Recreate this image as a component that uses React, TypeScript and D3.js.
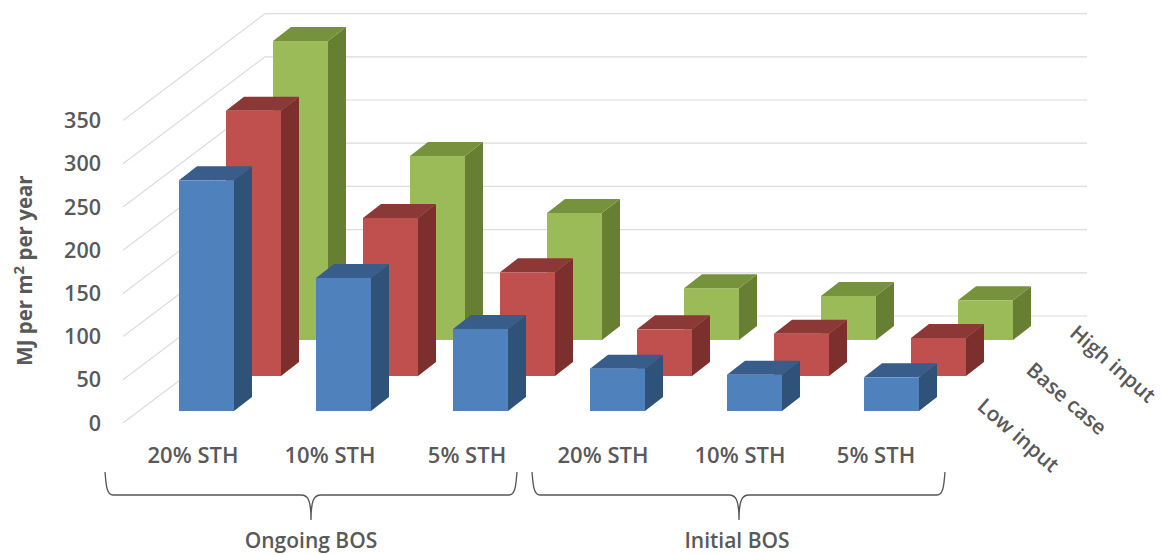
import React from "react";
import * as d3 from "d3";

// Energy output per category and scenario, MJ per m² per year.
const categories = ["20% STH", "10% STH", "5% STH", "20% STH", "10% STH", "5% STH"];
const lowInput = [267, 154, 95, 49, 42, 39];
const baseCase = [307, 183, 120, 54, 49, 44];
const highInput = [346, 213, 147, 60, 51, 46];
const yTicks = [0, 50, 100, 150, 200, 250, 300, 350];
const seriesNames = ["Low input", "Base case", "High input"];
const groups = ["Ongoing BOS", "Initial BOS"];

const FONT = "'Open Sans', sans-serif";
const TEXT = "#595959";
const GRID = "#dcdcdc";

const W = 1162;
const H = 554;

// Oblique projection: depth rows shift the floor right and up.
const heightScale = d3.scaleLinear().domain([0, 350]).range([0, 302.4]);
const xBand = d3.scaleLinear().domain([0, 5]).range([179, 864]);
const rows = [
  { values: lowInput, dx: 0, base: 411, face: "#4f81bd", top: "#385d8a", side: "#2f5279" },
  { values: baseCase, dx: 47, base: 376, face: "#c0504d", top: "#8c3836", side: "#7d2f2d" },
  { values: highInput, dx: 94, base: 340, face: "#9bbb59", top: "#76923c", side: "#667f33" },
];
const BAR_W = 55;
const DEPTH_X = 18;
const DEPTH_Y = 14;

const FRONT_X = 123;
const FRONT_Y0 = 423;
const WALL_X = 265;
const WALL_Y0 = 316;
const WALL_END = 1087;

function brace(x0: number, xm: number, x1: number) {
  const y0 = 472;
  const y1 = 495;
  const tip = 520;
  return [
    `M${x0},${y0}`,
    `C${x0 + 1},${y0 + 10} ${x0 + 1},${y1} ${x0 + 8},${y1}`,
    `L${xm - 10},${y1}`,
    `C${xm - 3},${y1} ${xm},${y1 + 5} ${xm},${tip}`,
    `C${xm},${y1 + 5} ${xm + 3},${y1} ${xm + 10},${y1}`,
    `L${x1 - 8},${y1}`,
    `C${x1 - 1},${y1} ${x1 - 1},${y0 + 10} ${x1},${y0}`,
  ].join(" ");
}

const braces = [
  { x0: 105, xm: 311, x1: 517, labelX: 311, labelY: 547.5 },
  { x0: 532, xm: 739, x1: 945, labelX: 737, labelY: 547.5 },
];
const categoryX = [193, 330, 467, 603, 740, 876];
const seriesLabelPos = [
  { x: 976, y: 408 },
  { x: 1025, y: 372 },
  { x: 1068.5, y: 335 },
];

export default function App() {
  return (
    <svg
      width={W}
      height={H}
      viewBox={`0 0 ${W} ${H}`}
      style={{ position: "absolute", left: 0, top: 0, background: "#fff" }}
    >
      {/* Side wall and back wall gridlines */}
      {yTicks.map((t) => {
        const h = heightScale(t);
        return (
          <g key={t}>
            <polyline
              points={`${FRONT_X},${FRONT_Y0 - h} ${WALL_X},${WALL_Y0 - h} ${WALL_END},${WALL_Y0 - h}`}
              fill="none"
              stroke={GRID}
              strokeWidth={1.2}
            />
            <text
              x={101}
              y={FRONT_Y0 - h + 7.5}
              textAnchor="end"
              fontFamily={FONT}
              fontWeight={600}
              fontSize={21.5}
              fill={TEXT}
            >
              {t}
            </text>
          </g>
        );
      })}

      {/* Bars, rear row first */}
      {[...rows].reverse().map((r, ri) => (
        <g key={ri}>
          {r.values.map((v, i) => {
            const x = xBand(i) + r.dx;
            const h = heightScale(v);
            const yTop = r.base - h;
            return (
              <g key={i}>
                <path
                  d={`M${x + BAR_W},${yTop} l${DEPTH_X},${-DEPTH_Y} V${r.base - DEPTH_Y} L${x + BAR_W},${r.base} Z`}
                  fill={r.side}
                />
                <path
                  d={`M${x},${yTop} l${DEPTH_X},${-DEPTH_Y} h${BAR_W} l${-DEPTH_X},${DEPTH_Y} Z`}
                  fill={r.top}
                />
                <rect x={x} y={yTop} width={BAR_W} height={h} fill={r.face} />
              </g>
            );
          })}
        </g>
      ))}

      {/* Axis title */}
      <text
        transform="translate(32,270.5) rotate(-90)"
        textAnchor="middle"
        fontFamily={FONT}
        fontWeight={700}
        fontSize={20.5}
        fill={TEXT}
      >
        MJ per m
        <tspan fontSize={15} dy={-8}>
          2
        </tspan>
        <tspan dy={8}> per year</tspan>
      </text>

      {/* Category labels */}
      {categories.map((c, i) => (
        <text
          key={i}
          x={categoryX[i]}
          y={463}
          textAnchor="middle"
          fontFamily={FONT}
          fontWeight={600}
          fontSize={22}
          fill={TEXT}
        >
          {c}
        </text>
      ))}

      {/* Depth axis labels */}
      {seriesNames.map((s, i) => (
        <text
          key={s}
          transform={`translate(${seriesLabelPos[i].x},${seriesLabelPos[i].y}) rotate(41)`}
          fontFamily={FONT}
          fontWeight={600}
          fontSize={20.8}
          fill={TEXT}
        >
          {s}
        </text>
      ))}

      {/* Group braces and their names */}
      {braces.map((b, i) => (
        <g key={i}>
          <path d={brace(b.x0, b.xm, b.x1)} fill="none" stroke="#555" strokeWidth={1.3} />
          <text
            x={b.labelX}
            y={b.labelY}
            textAnchor="middle"
            fontFamily={FONT}
            fontWeight={600}
            fontSize={21}
            fill={TEXT}
          >
            {groups[i]}
          </text>
        </g>
      ))}
    </svg>
  );
}
